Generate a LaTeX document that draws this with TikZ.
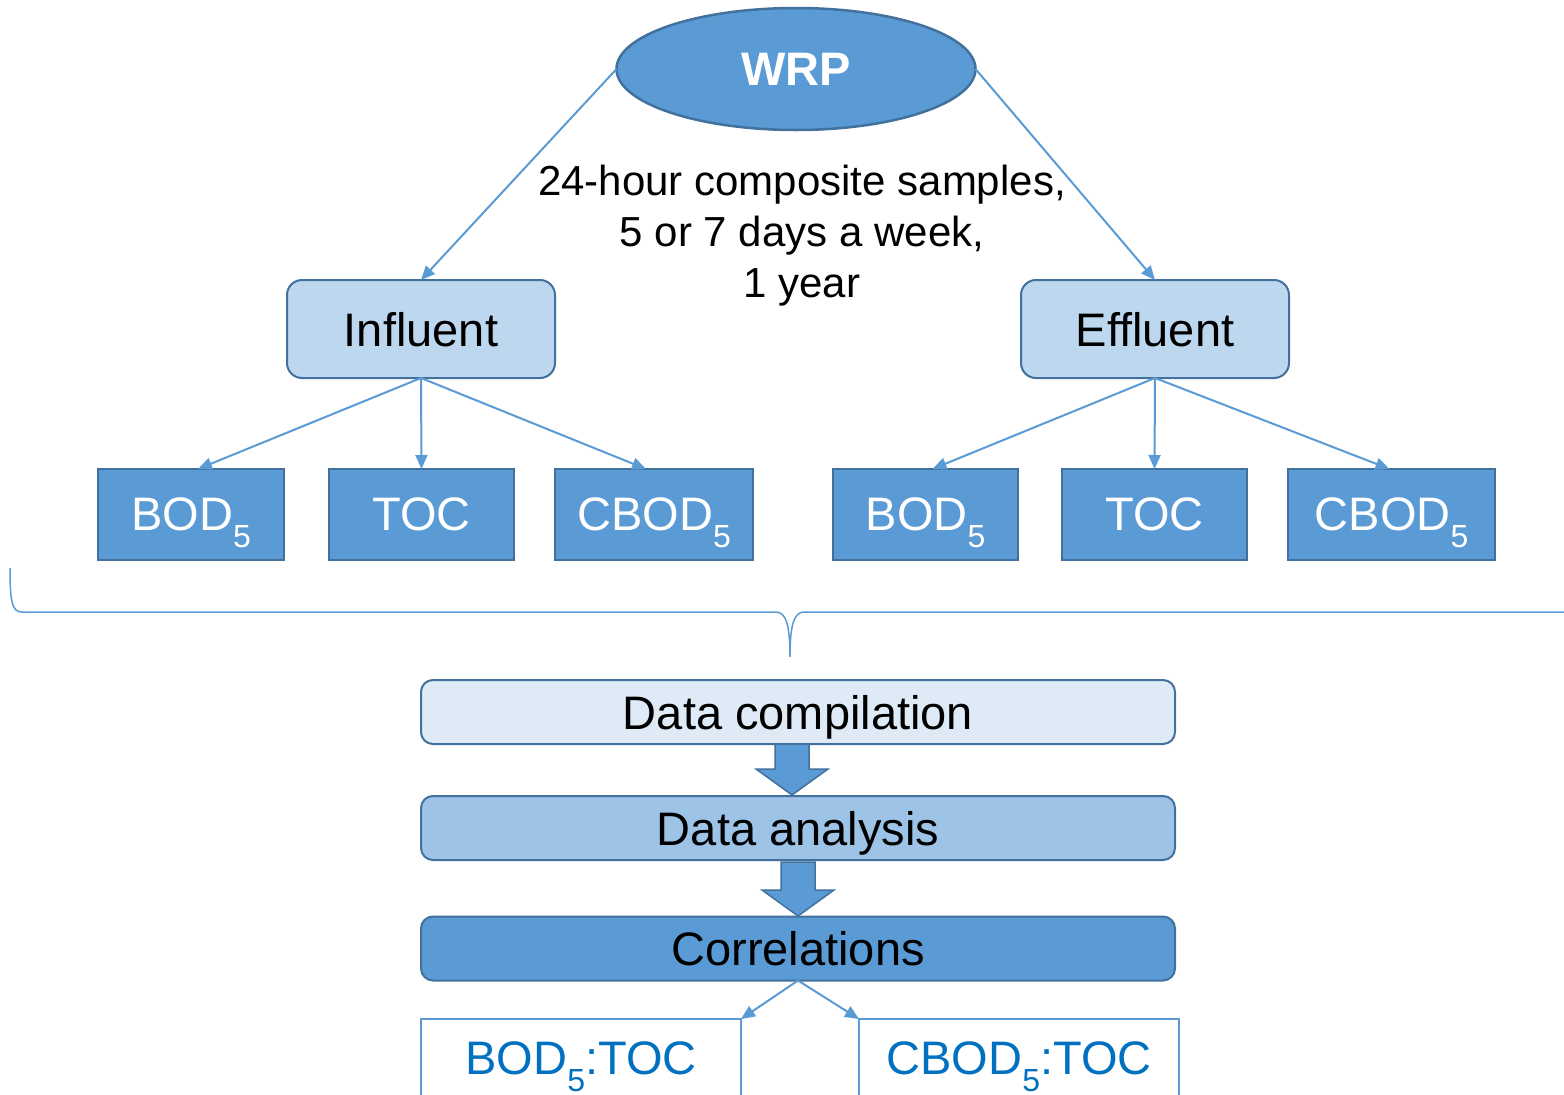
\documentclass[tikz,border=0pt]{standalone}
\usepackage{fontspec}
\setmainfont{Liberation Sans}
\usetikzlibrary{shapes.geometric,arrows.meta,calc}
\definecolor{mblue}{HTML}{5B9BD5}
\definecolor{dblue}{HTML}{41719C}
\definecolor{lblue}{HTML}{BDD7EE}
\definecolor{pblue}{HTML}{DEEBF7}
\definecolor{sblue}{HTML}{9DC3E6}
\definecolor{tblue}{HTML}{0070C0}
\newcommand\subfive{\raisebox{-0.36em}{\fontsize{32}{32}\selectfont 5}}
\begin{document}
\begin{tikzpicture}[x=1pt,y=-1pt,
  bigfont/.style={font=\fontsize{47}{51}\selectfont,text depth=0pt},
  topbox/.style={draw=dblue,line width=2pt,fill=lblue,rounded corners=15pt,minimum width=268pt,minimum height=98pt,inner sep=0pt,outer sep=0pt,bigfont},
  param/.style={draw=dblue,line width=2.5pt,fill=mblue,minimum height=91pt,inner sep=0pt,outer sep=0pt,bigfont,text=white},
  stage/.style={draw=dblue,line width=2pt,rounded corners=12pt,minimum width=754pt,minimum height=64pt,inner sep=0pt,outer sep=0pt,bigfont},
  ratio/.style={draw=mblue,line width=1.5pt,fill=white,minimum width=320pt,minimum height=78pt,inner sep=0pt,outer sep=0pt,bigfont,text=tblue},
  conn/.style={draw=mblue,line width=2pt,-{Triangle[length=14pt,width=12pt]}},
  blockarrow/.style={fill=mblue,draw=dblue,line width=1.5pt,line join=miter}
]
\clip (0,0) rectangle (1564,1095);
\fill[white] (0,0) rectangle (1564,1095);

% top ellipse
\node[ellipse,draw=dblue,line width=2.5pt,fill=mblue,minimum width=359pt,minimum height=122pt,inner sep=0pt,outer sep=0pt,text=white,font=\bfseries\fontsize{47}{51}\selectfont] (wrp) at (796,69) {WRP};

% level 2
\node[topbox] (infl) at (421,329) {Influent};
\node[topbox] (effl) at (1155,329) {Effluent};

\node[align=center,font=\fontsize{42}{51}\selectfont,inner sep=0pt] (note) at (802,236) {24-hour composite samples,\\5 or 7 days a week,\\1 year};

% parameters
\node[param,minimum width=186pt] (ib) at (191,514.5) {BOD\subfive};
\node[param,minimum width=185pt] (it) at (421.5,514.5) {TOC};
\node[param,minimum width=198pt] (ic) at (654,514.5) {CBOD\subfive};
\node[param,minimum width=185pt] (eb) at (925.5,514.5) {BOD\subfive};
\node[param,minimum width=185pt] (et) at (1154.5,514.5) {TOC};
\node[param,minimum width=207pt] (ec) at (1391.5,514.5) {CBOD\subfive};

\draw[conn] (wrp.west) -- (infl.north);
\draw[conn] (wrp.east) -- (effl.north);
\draw[conn] (infl.south) -- ($(ib.north)+(7,0)$);
\draw[conn] (infl.south) -- (it.north);
\draw[conn] (infl.south) -- ($(ic.north)+(-8,0)$);
\draw[conn] (effl.south) -- ($(eb.north)+(7,0)$);
\draw[conn] (effl.south) -- (et.north);
\draw[conn] (effl.south) -- ($(ec.north)+(-2,0)$);

% brace
\coordinate (bl) at (10,568);
\coordinate (btip) at (790,657);
\coordinate (br) at (1564,612);
\draw[mblue,line width=1.5pt] (bl) .. controls (10,602) and (12,612) .. (22,612) -- (776,612)
  .. controls (786,612) and (790,625) .. (btip)
  .. controls (790,625) and (794,612) .. (804,612) -- (br);

% stages
\node[stage,fill=pblue] (dc) at (798,712) {Data compilation};
\node[stage,fill=sblue] (da) at (798,828) {Data analysis};
\node[stage,fill=mblue] (co) at (798,948.5) {Correlations};

\draw[blockarrow] (775,744) -- (809,744) -- (809,769) -- (828,769) -- (792,795) -- (756,769) -- (775,769) -- cycle;
\draw[blockarrow] (781,862) -- (815,862) -- (815,890) -- (834,890) -- (798,916) -- (762,890) -- (781,890) -- cycle;

% ratios
\node[ratio] (r1) at (581,1058) {BOD\subfive:TOC};
\node[ratio] (r2) at (1019,1058) {CBOD\subfive:TOC};

\draw[conn] (co.south) -- (r1.north east);
\draw[conn] (co.south) -- (r2.north west);
\end{tikzpicture}
\end{document}
